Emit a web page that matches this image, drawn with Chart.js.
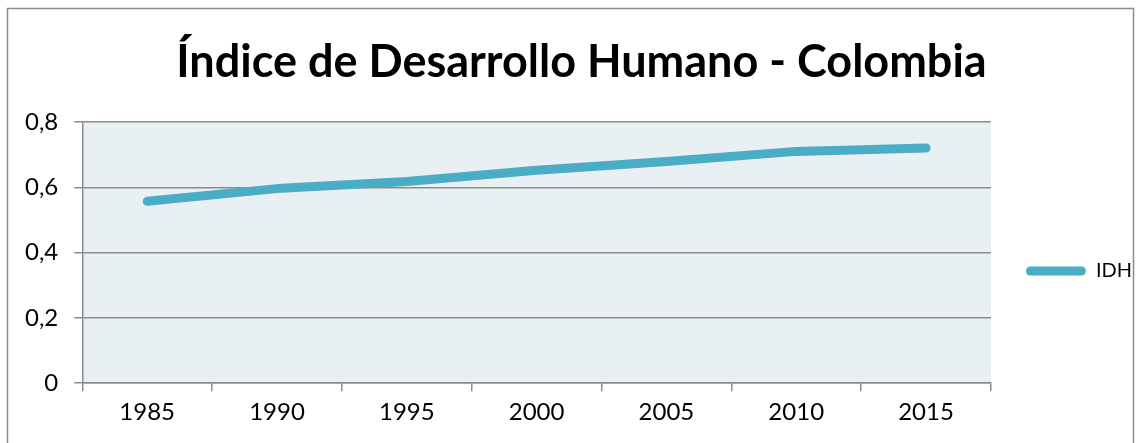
<!DOCTYPE html>
<html>
<head>
<meta charset="utf-8">
<script src="https://cdn.jsdelivr.net/npm/chart.js@4"></script>
<style>
  html, body { margin: 0; padding: 0; background: #fff; }
  #wrap { width: 1142px; height: 443px; position: relative; }
</style>
</head>
<body>
<div id="wrap"><canvas id="myChart"></canvas></div>
<script>
const years = ["1985", "1990", "1995", "2000", "2005", "2010", "2015"];
const idh = [0.557, 0.596, 0.618, 0.652, 0.679, 0.710, 0.720];
const seriesName = "IDH";
const chartTitle = "Índice de Desarrollo Humano - Colombia";

const lineColor = "#4bacc6";
const gridColor = "#8c8c8c";
const fontFamily = "Lato, 'Open Sans', sans-serif";

// fondo del área de trazado y marco exterior
const frame = {
  id: "frame",
  beforeDraw(chart) {
    const { ctx, chartArea } = chart;
    ctx.save();
    ctx.fillStyle = "#fff";
    ctx.fillRect(0, 0, chart.width, chart.height);
    ctx.strokeStyle = "#8c8c8c";
    ctx.lineWidth = 1.5;
    ctx.strokeRect(7.5, 8.5, 1126, 460);
    ctx.fillStyle = "#e9f0f4";
    ctx.fillRect(chartArea.left, chartArea.top, chartArea.right - chartArea.left, chartArea.bottom - chartArea.top);
    ctx.restore();
  },
};

Chart.defaults.font.family = fontFamily;
Chart.defaults.color = "#000";

new Chart(document.getElementById("myChart"), {
  type: "line",
  data: {
    labels: years,
    datasets: [
      {
        label: seriesName,
        data: idh,
        borderColor: lineColor,
        backgroundColor: lineColor,
        borderWidth: 9,
        borderCapStyle: "round",
        borderJoinStyle: "round",
        pointRadius: 0,
        pointHoverRadius: 0,
        tension: 0,
      },
    ],
  },
  options: {
    responsive: true,
    maintainAspectRatio: false,
    animation: false,
    layout: { padding: { top: 20, left: 21, right: 0, bottom: 9 } },
    plugins: {
      title: {
        display: true,
        text: chartTitle,
        font: { size: 45, weight: "bold" },
        color: "#000",
        padding: { top: 15, bottom: 33 },
      },
      legend: {
        position: "right",
        // título vacío para bajar la leyenda como en Excel
        title: { display: true, text: " ", font: { size: 10 }, padding: 38 },
        labels: {
          boxWidth: 60,
          boxHeight: 9,
          useBorderRadius: true,
          borderRadius: 4.5,
          font: { size: 20 },
          color: "#000",
          padding: 35,
          generateLabels: (chart) =>
            Chart.defaults.plugins.legend.labels.generateLabels(chart).map((l) => ({ ...l, lineWidth: 0 })),
        },
      },
      tooltip: { enabled: false },
    },
    scales: {
      x: {
        offset: true,
        grid: {
          offset: true,
          drawOnChartArea: false,
          drawTicks: true,
          tickLength: 8,
          color: gridColor,
          lineWidth: 1.5,
        },
        border: { display: true, color: gridColor, width: 1.5 },
        ticks: { font: { size: 24 }, color: "#000", padding: 7 },
      },
      y: {
        min: 0,
        max: 0.8,
        afterFit: (scale) => {
          scale.width -= 12;
        },
        grid: {
          drawOnChartArea: true,
          tickLength: 8,
          color: gridColor,
          lineWidth: 1.5,
        },
        border: { display: true, color: gridColor, width: 1.5 },
        ticks: {
          stepSize: 0.2,
          font: { size: 24 },
          color: "#000",
          padding: 16,
          callback: (v) => (v === 0 ? "0" : v.toFixed(1).replace(".", ",")),
        },
      },
    },
  },
  plugins: [frame],
});
</script>
</body>
</html>
